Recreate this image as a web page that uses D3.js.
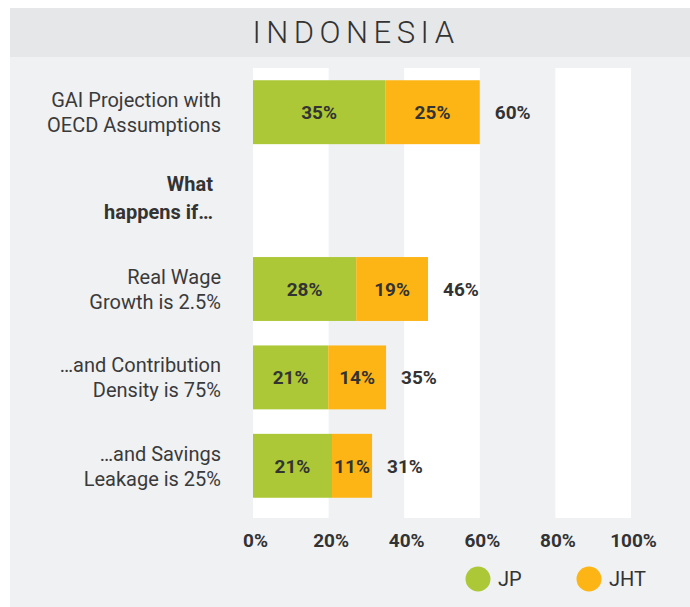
<!DOCTYPE html>
<html lang="en">
<head>
    <meta charset="UTF-8">
    <title>Indonesia</title>
    <script src="https://d3js.org/d3.v7.min.js"></script>
    <style>
        body { margin: 0; background: #fff; }
        svg { display: block; font-family: Roboto, "Open Sans", sans-serif; }
    </style>
</head>
<body>
    <script>
        //Data
        var categories = ["GAI Projection with|OECD Assumptions", "Real Wage|Growth is 2.5%", "…and Contribution|Density is 75%", "…and Savings|Leakage is 25%"];
        var jp = [35, 27.3, 19.9, 20.9];
        var jht = [25, 19.0, 15.3, 10.6];
        var jpLabels = ["35%", "28%", "21%", "21%"];
        var jhtLabels = ["25%", "19%", "14%", "11%"];
        var totalLabels = ["60%", "46%", "35%", "31%"];
        var headerLines = ["What", "happens if…"];
        var ticks = [0, 20, 40, 60, 80, 100];
        var seriesNames = ["JP", "JHT"];
        var colors = ["#acc837", "#fdb515"];

        //SVG dimensions
        var w = 690;
        var h = 607;
        var textColor = "#333";

        var svg = d3.select("body")
            .append("svg")
            .attr("width", w)
            .attr("height", h);

        //Panel background + title band
        svg.append("rect").attr("x", 10).attr("y", 57).attr("width", 680).attr("height", 550).attr("fill", "#f0f1f3");
        svg.append("rect").attr("x", 10).attr("y", 8).attr("width", 680).attr("height", 49).attr("fill", "#e6e7e9");
        svg.append("text")
            .attr("x", 356)
            .attr("y", 43)
            .attr("text-anchor", "middle")
            .style("font-size", "31px")
            .style("font-weight", 300)
            .style("letter-spacing", "5.5px")
            .style("fill", textColor)
            .text("INDONESIA");

        //Scales
        var xScale = d3.scaleLinear()
            .domain([0, 100])
            .range([253, 631]);

        var rowDomain = [categories[0], "header", categories[1], categories[2], categories[3]];
        var yScale = d3.scaleBand()
            .domain(rowDomain)
            .range([68, 510])
            .paddingInner(0.277)
            .paddingOuter(0.1385);

        //White column stripes (0-20, 40-60, 80-100)
        var stripes = d3.range(0, ticks.length - 1, 2).map(function(i) { return [ticks[i], ticks[i + 1]]; });
        svg.selectAll(".stripe")
            .data(stripes)
            .enter()
            .append("rect")
            .attr("class", "stripe")
            .attr("x", function(d) { return xScale(d[0]); })
            .attr("width", function(d) { return xScale(d[1]) - xScale(d[0]); })
            .attr("y", 68)
            .attr("height", 450)
            .attr("fill", "#fff");

        //Stacked bars
        var rows = categories.map(function(c, i) {
            return { cat: c, jp: jp[i], jht: jht[i], jpL: jpLabels[i], jhtL: jhtLabels[i], totL: totalLabels[i] };
        });
        var stack = d3.stack().keys(["jp", "jht"])(rows);

        var layers = svg.selectAll(".layer")
            .data(stack)
            .enter()
            .append("g")
            .attr("class", "layer")
            .attr("fill", function(d, i) { return colors[i]; });

        layers.selectAll("rect")
            .data(function(d) { return d; })
            .enter()
            .append("rect")
            .attr("x", function(d) { return xScale(d[0]); })
            .attr("width", function(d) { return xScale(d[1]) - xScale(d[0]); })
            .attr("y", function(d) { return yScale(d.data.cat); })
            .attr("height", yScale.bandwidth());

        //Segment labels
        layers.each(function(layer, li) {
            d3.select(this).selectAll("text")
                .data(layer)
                .enter()
                .append("text")
                .attr("x", function(d) { return (xScale(d[0]) + xScale(d[1])) / 2; })
                .attr("y", function(d) { return yScale(d.data.cat) + yScale.bandwidth() / 2; })
                .attr("dy", "0.36em")
                .attr("text-anchor", "middle")
                .style("font-size", "19px")
                .style("font-weight", 700)
                .style("fill", textColor)
                .text(function(d) { return li === 0 ? d.data.jpL : d.data.jhtL; });
        });

        //Totals
        svg.selectAll(".total")
            .data(rows)
            .enter()
            .append("text")
            .attr("class", "total")
            .attr("x", function(d) { return xScale(d.jp + d.jht) + 15; })
            .attr("y", function(d) { return yScale(d.cat) + yScale.bandwidth() / 2; })
            .attr("dy", "0.36em")
            .style("font-size", "19px")
            .style("font-weight", 700)
            .style("fill", textColor)
            .text(function(d) { return d.totL; });

        //Category labels (two lines, right aligned)
        var catText = svg.selectAll(".cat")
            .data(rows)
            .enter()
            .append("text")
            .attr("class", "cat")
            .attr("text-anchor", "end")
            .style("font-size", "20px")
            .style("fill", "#3a3a3a");
        catText.selectAll("tspan")
            .data(function(d) {
                var c = yScale(d.cat) + yScale.bandwidth() / 2;
                return d.cat.split("|").map(function(s, i) { return { s: s, y: c - 5 + i * 25 }; });
            })
            .enter()
            .append("tspan")
            .attr("x", 221)
            .attr("y", function(d) { return d.y; })
            .text(function(d) { return d.s; });

        //Header "What happens if…"
        var hc = yScale("header") + yScale.bandwidth() / 2;
        svg.append("text")
            .attr("text-anchor", "end")
            .style("font-size", "20px")
            .style("font-weight", 700)
            .style("fill", textColor)
            .selectAll("tspan")
            .data(headerLines)
            .enter()
            .append("tspan")
            .attr("x", 213)
            .attr("y", function(d, i) { return hc - 10 + i * 28; })
            .text(function(d) { return d; });

        //X axis
        var xAxis = d3.axisBottom(xScale)
            .tickValues(ticks)
            .tickSize(0)
            .tickPadding(0)
            .tickFormat(function(d) { return d + "%"; });
        var gx = svg.append("g")
            .attr("transform", "translate(2,533)")
            .call(xAxis);
        gx.select(".domain").remove();
        gx.selectAll("text")
            .style("font-family", "Roboto, sans-serif")
            .style("font-size", "19px")
            .style("font-weight", 700)
            .style("fill", textColor);

        //Legend
        var legend = svg.selectAll(".legend")
            .data(seriesNames)
            .enter()
            .append("g")
            .attr("class", "legend")
            .attr("transform", function(d, i) { return "translate(" + (478 + i * 111) + ",579)"; });
        legend.append("circle")
            .attr("r", 12.5)
            .attr("fill", function(d, i) { return colors[i]; });
        legend.append("text")
            .attr("x", 20)
            .attr("dy", "0.36em")
            .style("font-size", "20px")
            .style("fill", textColor)
            .text(function(d) { return d; });
    </script>
</body>
</html>
